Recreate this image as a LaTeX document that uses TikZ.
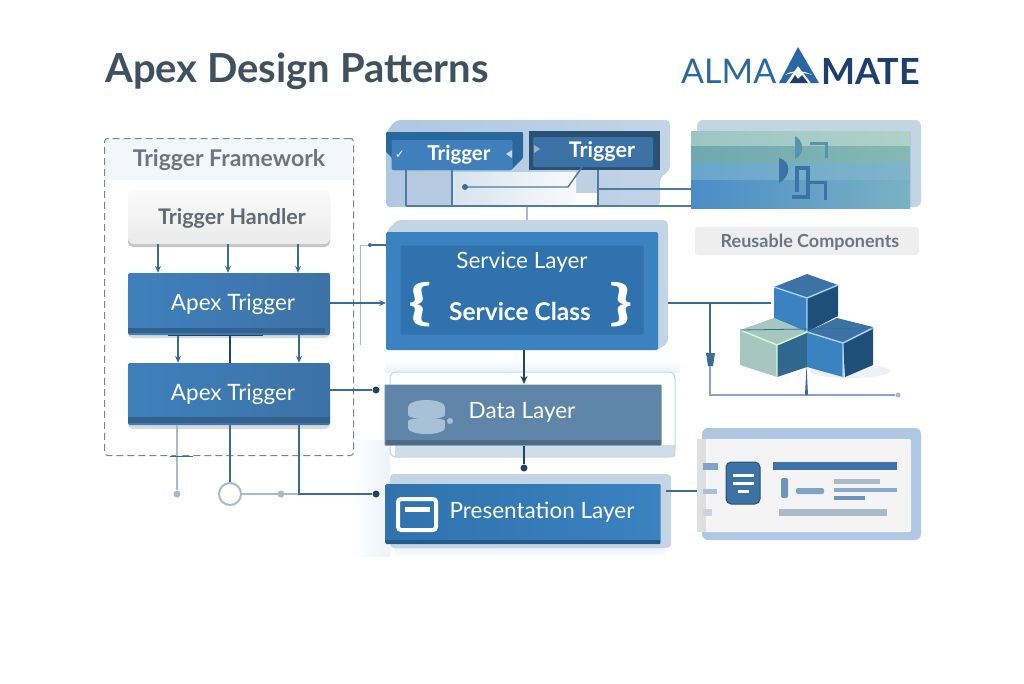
\documentclass[tikz,border=0pt]{standalone}
\usepackage{graphicx}
\usepackage{fontspec}
\setmainfont{Lato}
\newfontfamily\symfont{DejaVu Sans}
\usetikzlibrary{arrows.meta,calc}
\definecolor{inkdark}{HTML}{3F5060}
\definecolor{inkgray}{HTML}{6B7681}
\definecolor{blueA}{HTML}{3F80BC}
\definecolor{blueB}{HTML}{3C72A6}
\definecolor{blueC}{HTML}{2F72AE}
\definecolor{blueD}{HTML}{3A82C0}
\definecolor{bluedata}{HTML}{5F86A8}
\definecolor{logoblue}{HTML}{2A68A4}
\definecolor{logonavy}{HTML}{1C3F70}
\definecolor{lineblue}{HTML}{3A6C98}
\definecolor{linedark}{HTML}{1F4468}
\definecolor{linegray}{HTML}{A9BAC9}
\definecolor{backblue}{HTML}{C3D4E5}
\definecolor{cardback}{HTML}{AFC7E2}
\definecolor{paleblue}{HTML}{EDF3F9}
\definecolor{cubedark}{HTML}{1F4E79}
\definecolor{cubemid}{HTML}{2F6790}
\definecolor{cubegreen}{HTML}{A8C6C0}
\definecolor{cubeedge}{HTML}{A9D3EE}
\definecolor{dbdisc}{HTML}{A9C1D6}
\definecolor{bandaL}{HTML}{9CC6C4}
\definecolor{bandaR}{HTML}{AED2C6}
\definecolor{bandbL}{HTML}{6FA8AE}
\definecolor{bandbR}{HTML}{86B8B4}
\definecolor{bandcL}{HTML}{6AA5CD}
\definecolor{bandcR}{HTML}{80B5C8}
\definecolor{banddL}{HTML}{4A8DC6}
\definecolor{banddR}{HTML}{7AB2C4}
\tikzset{
  layerbox/.style={rectangle,rounded corners=2pt,inner sep=0pt},
  layertext/.style={text=white,inner sep=0pt,font=\fontsize{22.5}{24}\selectfont},
  backbox/.style={rectangle,rounded corners=5pt,inner sep=0pt,fill=backblue},
  apexbox/.style={layerbox,left color=blueA,right color=blueB},
  dot/.style={circle,inner sep=0pt,minimum size=7pt,fill=linedark},
  graydot/.style={circle,inner sep=0pt,minimum size=7pt,fill=linegray},
  conn/.style={lineblue,line width=1.2pt},
  wire/.style={lineblue!90,line width=1.4pt},
  connarrow/.style={conn,-{Stealth[length=7pt,width=6pt]}},
}
\begin{document}
\begin{tikzpicture}[x=1pt,y=-1pt]
\useasboundingbox (0,0) rectangle (1024,683);
\fill[white] (0,0) rectangle (1024,683);
% title and logo
\node[anchor=west,inner sep=0pt,text=inkdark,font=\fontsize{40}{44}\bfseries\selectfont] (title) at (105,71) {Apex Design Patterns};
\node[anchor=west,inner sep=0pt,text=logoblue,font=\fontsize{34}{40}\selectfont] (alma) at (681,71) {ALMA};
\node[anchor=east,inner sep=0pt,text=logonavy,font=\fontsize{36}{40}\bfseries\selectfont] (mate) at (920,71) {MATE};
\fill[logoblue] (798,47)--(819,83)--(811,83)--(798,66)--(786,83)--(779,83)--cycle;
\fill[logonavy] (790,83)--(795,75)--(798,79)--(802,75)--(808,83)--cycle;
\fill[white] (785,75)..controls (791,70) and (804,70) ..(812,75)..controls (804,72) and (792,72) ..(785,75)--cycle;
%
% soft glow behind the lower layers
\shade[left color=white,right color=paleblue] (352,440) rectangle (390,556);
\shade[top color=white,bottom color=paleblue] (385,358) rectangle (680,372);
\shade[top color=paleblue,bottom color=white] (395,548) rectangle (665,558);
%
% trigger framework
\fill[paleblue!70] (105,139) rectangle (352,180);
\node[draw=inkgray!90,dash pattern=on 7pt off 4pt,line width=1pt,rounded corners=3pt,minimum width=249pt,minimum height=317pt,inner sep=0pt] (frame) at (229,297) {};
\node[text=inkgray,font=\fontsize{23}{24}\bfseries\selectfont,inner sep=0pt] (frametitle) at (229,160) {Trigger Framework};
\node[backbox,fill=gray!45,minimum width=202pt,minimum height=50pt] (handlerback) at (229,222) {};
\node[rectangle,rounded corners=6pt,inner sep=0pt,top color=gray!4,bottom color=gray!16,minimum width=202pt,minimum height=54pt] (handler) at (229,217) {};
\node[text=inkgray!90!black,font=\fontsize{21.5}{24}\bfseries\selectfont,inner sep=0pt] (handlertext) at (232,218) {Trigger Handler};
\node[backbox,fill=gray!30,minimum width=202pt,minimum height=30pt] (apexaback) at (229,323) {};
\node[apexbox,minimum width=202pt,minimum height=62pt] (apexa) at (229,304) {};
\node[layertext] (apexatext) at (233,304) {Apex Trigger};
\fill[blueB!85!black] (128,328) rectangle (325,333);
\node[backbox,fill=gray!30,minimum width=202pt,minimum height=30pt] (apexbback) at (229,414) {};
\node[apexbox,minimum width=202pt,minimum height=62pt] (apexb) at (229,394) {};
\node[layertext] (apexbtext) at (233,394) {Apex Trigger};
\fill[blueB!85!black] (128,417) rectangle (330,423);
%
% framework connectors
\foreach \dx in {-71,-1,69}
  \draw[connarrow] ([xshift=\dx pt]handler.south) -- ([xshift=\dx pt]apexa.north);
\foreach \dx in {-51,70}
  \draw[connarrow] ([xshift=\dx pt]apexa.south) -- ([xshift=\dx pt]apexb.north);
\draw[linedark,line width=1.4pt] ([xshift=1pt]apexa.south) -- ([xshift=1pt]apexb.north);
\draw[linedark,line width=1pt] ([xshift=-61pt]apexa.south) -- ([xshift=34pt]apexa.south);
%
\node[graydot] (dota) at (177,494) {};
\node[circle,draw=linegray,line width=2pt,fill=white,minimum size=22pt,inner sep=0pt] (ring) at (230,494) {};
\node[graydot] (dotb) at (281,494) {};
\node[dot] (dotc) at (376,494) {};
\node[dot] (dotd) at (376,390) {};
\coordinate (joint) at (299,494);
\draw[linegray,line width=1.6pt] (apexb.south -| dota) -- (dota);
\draw[conn] (apexb.south -| ring) -- (ring);
\draw[linegray,line width=1.6pt] (ring) -- (joint);
\draw[conn] (apexb.south -| joint) -- (joint) -- (dotc);
\draw[conn] (apexb.east |- dotd) -- (dotd);
\draw[lineblue,line width=0.8pt] ([xshift=-59pt]frame.south) -- ([xshift=-36pt]frame.south);
%
% trigger panel
\shade[left color=cardback,right color=backblue,rounded corners=4pt] (396,120)--(670,120)--(670,170)--(660,178)--(660,206)--(386,207)--(386,132)--cycle;
\shade[left color=backblue!65,right color=paleblue!40] (452,172) rectangle (576,206);
\fill[white] (576,193) rectangle (598,206);
\fill[backblue!90!blueB] (406,172) rectangle (452,206);
\fill[blueC!90!black,rounded corners=1pt] (386,132)--(523,132)--(523,158)--(511,170)--(392,170)--(392,158)--(386,152)--cycle;
\node[layerbox,fill=blueA,minimum width=121pt,minimum height=30pt] (triga) at (452,155) {};
\node[text=white,font=\fontsize{20.5}{22}\selectfont\bfseries,inner sep=0pt] (trigatext) at (459,155) {Trigger};
\node[text=white,font=\fontsize{12}{14}\symfont,inner sep=0pt] (check) at (400,155) {\symbol{"2713}};
\fill[white!70!blueA] (506,154)--(512,150)--(512,158)--cycle;
\node[rectangle,inner sep=0pt,fill=blueB!70!black,minimum width=131pt,minimum height=39pt] (trigbback) at (594,150) {};
\node[layerbox,fill=blueB,minimum width=120pt,minimum height=30pt] (trigb) at (593,152) {};
\node[text=white,font=\fontsize{21.5}{24}\selectfont\bfseries,inner sep=0pt] (trigbtext) at (602,151) {Trigger};
\fill[white!45!blueB] (540,149)--(534,145)--(534,153)--cycle;
%
% green panel
\fill[backblue,rounded corners=6pt] (697,120) rectangle (921,207);
\node[rectangle,rounded corners=1pt,inner sep=0pt,fill=blueD,minimum width=219pt,minimum height=77pt] (greenpanel) at (800.5,169.5) {};
\shade[left color=bandaL,right color=bandaR] (691,131) rectangle (910,146);
\shade[left color=bandbL,right color=bandbR] (691,146) rectangle (910,163);
\shade[left color=bandcL,right color=bandcR] (691,163) rectangle (910,180);
\shade[left color=banddL,right color=banddR] (691,180) rectangle (910,208);
\fill[blueB!80!teal!80] (795,136)..controls (803,140) and (806,153) ..(795,159)--cycle;
\fill[blueB] (779,158)..controls (791,161) and (792,176) ..(779,183)--cycle;
\draw[blueB!80!teal!80,line width=3pt] (810,143)--(826,143)--(826,158);
\draw[blueB,line width=3.5pt] (797,192)--(797,168)--(808,168)--(808,197)--(792,197);
\draw[blueB,line width=3pt] (810,182)--(825,182)--(825,200);
%
% service layer
\fill[backblue,rounded corners=5pt] (397,220)--(668,220)--(668,343)--(658,350)--(386,350)--(386,232)--cycle;
\node[layerbox,fill=blueD,minimum width=272pt,minimum height=118pt] (service) at (522,291) {};
\node[layerbox,fill=blueC,minimum width=243pt,minimum height=89pt] (serviceinner) at (522,290) {};
\node[layertext] (servicetitle) at (522,262) {Service Layer};
\node[text=white,font=\fontsize{24.5}{26}\bfseries\selectfont,inner sep=0pt] (serviceclass) at (520,311) {Service Class};
\node[text=white,font=\fontsize{48}{50}\bfseries\selectfont,inner sep=0pt] (bracel) at (420,305) {\scalebox{1.6}[1]{\{}};
\node[text=white,font=\fontsize{48}{50}\bfseries\selectfont,inner sep=0pt] (bracer) at (621,305) {\scalebox{1.6}[1]{\}}};
%
% data layer
\node[rectangle,rounded corners=6pt,draw=backblue,line width=1pt,fill=white,minimum width=285pt,minimum height=85pt,inner sep=0pt] (databack) at (532.5,414.5) {};
\fill[backblue,opacity=0.8] (395,445) rectangle (675,457);
\node[layerbox,rounded corners=1pt,fill=bluedata,minimum width=277pt,minimum height=61pt] (data) at (523,415) {};
\fill[bluedata!80!black] (386,440) rectangle (661,445);
\node[layertext] (datatext) at (522,412) {Data Layer};
\fill[dbdisc] (408,407) rectangle (445,415);
\fill[dbdisc] (426.5,407) ellipse[x radius=18.5,y radius=7];
\fill[dbdisc] (426.5,415) ellipse[x radius=18.5,y radius=4];
\fill[dbdisc] (408,421) rectangle (445,428);
\fill[dbdisc] (426.5,428) ellipse[x radius=18.5,y radius=6];
\fill[dbdisc] (426.5,421) ellipse[x radius=18.5,y radius=3];
\fill[dbdisc] (450,421) circle (3);
%
% presentation layer
\fill[backblue,rounded corners=4pt] (390,474) rectangle (671,548);
\node[layerbox,rounded corners=1pt,left color=blueC,right color=blueD,minimum width=275pt,minimum height=60pt] (present) at (523,514) {};
\fill[blueC!80!black] (386,540) rectangle (660,544);
\node[layertext] (presenttext) at (542,512) {Presentation Layer};
\node[rectangle,rounded corners=3pt,draw=white,line width=4pt,minimum width=38pt,minimum height=31pt,inner sep=0pt] (window) at (417,514.5) {};
\fill[white] (405,507) rectangle (430,512);
%
% layer connectors
\coordinate (panelbase) at (527,207);
\coordinate (servicetop) at (527,220);
\coordinate (riserbase) at (360,345);
\coordinate (risertop) at (360,245);
\coordinate (entrya) at (386,303);
\coordinate (exita) at (330,303);
\coordinate (downa) at (524,350);
\coordinate (downb) at (524,384);
\draw[linegray,line width=1.2pt] (panelbase) -- (servicetop);
\node[dot,minimum size=4pt,fill=lineblue] (dote) at (370,245) {};
\draw[linegray,line width=1pt] (riserbase) -- (risertop) -- (dote);
\draw[conn] (dote) -- (service.west |- dote);
\draw[connarrow] (exita) -- (entrya);
\draw[linedark,line width=1.4pt,-{Stealth[length=8pt,width=7pt]}] (downa) -- (downb);
\node[dot] (dotf) at (524,468) {};
\draw[linedark,line width=1.6pt] (data.south -| dotf) -- (dotf);
%
% trigger panel wiring
\node[dot,minimum size=6pt,fill=lineblue] (dotg) at (465,187) {};
\coordinate (elbow) at (568,187);
\coordinate (hub) at (598,189);
\coordinate (busleft) at (406,206);
\coordinate (busmid) at (452,206);
\coordinate (busright) at (598,206);
\draw[wire] (triga.south -| busleft) -- (busleft);
\draw[wire] (triga.south -| busmid) -- (busmid);
\draw[wire] (busleft) -- (greenpanel.west |- busleft);
\draw[wire] (dotg) -- (elbow) -- (trigb.south -| 582,0);
\draw[wire] (trigbback.south -| hub) -- (busright);
\draw[wire] (hub) -- (greenpanel.west |- hub);
%
% cubes
\fill[blueB!12,opacity=0.8] (850,371) ellipse[x radius=40,y radius=7];
%
\fill[blueB] (807,274)--(838,285)--(807,298)--(774,287)--cycle;
\fill[blueD] (774,287)--(807,298)--(807,332)--(774,318)--cycle;
\fill[cubedark] (838,285)--(807,298)--(807,332)--(838,316)--cycle;
\draw[cubeedge,line width=1.4pt] (774,287)--(807,298)--(838,285) (807,298)--(807,332);
%
\fill[cubegreen] (774,318)--(807,332)--(777,345)--(740,330)--cycle;
\fill[cubegreen] (740,330)--(777,345)--(777,377)--(740,365)--cycle;
\fill[cubemid] (777,345)--(807,332)--(807,367)--(777,377)--cycle;
\draw[white!80!green,line width=1.4pt] (740,330)--(777,345)--(807,332) (777,345)--(777,377);
%
\fill[blueB] (807,332)--(837,318)--(873,327)--(843,343)--cycle;
\fill[blueD] (807,332)--(843,343)--(843,377)--(807,367)--cycle;
\fill[cubedark] (843,343)--(873,328)--(873,365)--(845,377)--cycle;
\draw[cubeedge,line width=1.4pt] (807,332)--(843,343)--(873,328) (843,343)--(843,377);
\draw[lineblue,line width=0.8pt] (740,330)--(873,328);
%
% cube wiring
\coordinate (serviceedge) at (668,303);
\coordinate (cubeleft) at (771,303);
\coordinate (branch) at (710,303);
\coordinate (funneltop) at (710,353);
\coordinate (funnelend) at (710,366);
\coordinate (corner) at (710,395);
\node[circle,inner sep=0pt,minimum size=5pt,fill=linegray] (wireend) at (898,395) {};
\draw[conn] (serviceedge) -- (branch) -- (cubeleft);
\draw[conn] (branch) -- (funneltop);
\fill[lineblue] (706,353)--(715,353)--(713,366)--(708,366)--cycle;
\draw[linegray!85!blue,line width=1.3pt] (funnelend) -- (corner) -- (wireend);
\fill[lineblue] (805,395)--(806.5,365)--(808,395)--cycle;
%
% reusable components
\node[rectangle,rounded corners=3pt,fill=gray!13,inner sep=0pt,minimum width=224pt,minimum height=28pt] (reusable) at (807,241) {};
\node[text=inkgray,font=\fontsize{18}{20}\bfseries\selectfont,inner sep=0pt] (reusabletext) at (810,242) {Reusable Components};
%
% card
\fill[cardback,rounded corners=6pt] (702,428) rectangle (921,540);
\node[rectangle,rounded corners=2pt,inner sep=0pt,fill=gray!9,minimum width=214pt,minimum height=93pt] (card) at (804,485.5) {};
\fill[gray!25] (697,439) rectangle (706,532);
\coordinate (presentedge) at (666,491);
\draw[conn] (presentedge) -- (card.west |- presentedge);
\fill[blueB!65] (703,463) rectangle (718,470);
\fill[blueB!45] (703,489) rectangle (717,494);
\fill[blueB!30] (703,509) rectangle (712,516);
\node[rectangle,rounded corners=5pt,draw=blueB!70!black,line width=1pt,fill=blueB,minimum width=34pt,minimum height=42pt,inner sep=0pt] (docicon) at (743,483) {};
\fill[white] (733,474) rectangle (754,477);
\fill[white] (733,482) rectangle (754,485);
\fill[white] (738,490) rectangle (749,493);
\fill[blueB] (773,462) rectangle (897,470);
\fill[blueB!75,rounded corners=2pt] (781,478) rectangle (788,498);
\fill[blueB!65,rounded corners=2pt] (796,488) rectangle (824,494);
\fill[linegray] (834,479) rectangle (880,484);
\fill[blueB!60] (834,488) rectangle (897,492);
\fill[blueB!75] (834,496) rectangle (865,500);
\fill[linegray] (779,509) rectangle (887,516);
\end{tikzpicture}
\end{document}
